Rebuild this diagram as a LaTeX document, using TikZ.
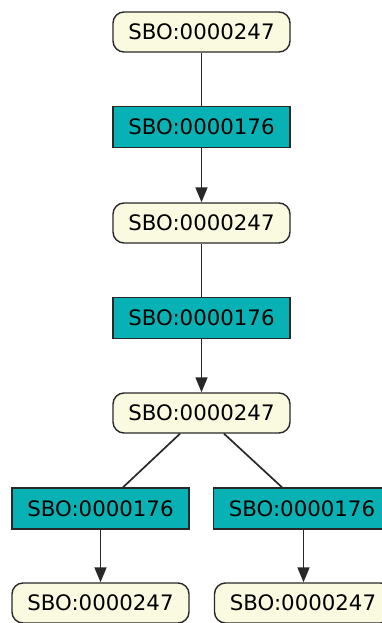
\documentclass[tikz,border=0pt]{standalone}
\usepackage{fontspec}
\setmainfont{DejaVu Sans}
\usetikzlibrary{arrows.meta}
\definecolor{sbocream}{RGB}{250,250,224}
\definecolor{sboteal}{RGB}{8,178,180}
\definecolor{sboline}{RGB}{40,40,40}
\tikzset{species/.style={draw=sboline,line width=1.4pt,fill=sbocream,rounded corners=11pt,
   minimum width=177pt,minimum height=40pt,inner sep=0pt,font=\fontsize{21.3}{25}\selectfont},
 process/.style={draw=sboline,line width=1.4pt,fill=sboteal,
   minimum width=177pt,minimum height=41pt,inner sep=0pt,font=\fontsize{21.3}{25}\selectfont},
 link/.style={draw=sboline,line width=1.7pt},
 prod/.style={link,-{Triangle[length=15pt,width=12pt]}},
 }

\begin{document}
\begin{tikzpicture}[x=1pt,y=-1pt]
        \useasboundingbox (0,0) rectangle (381,623);
        \node[species] (s1) at (201.5, 32) {SBO:0000247};
        \node[process] (p1) at (201.5, 127) {SBO:0000176};
        \node[species] (s2) at (201.5, 223) {SBO:0000247};
        \node[process] (p2) at (201.5, 318) {SBO:0000176};
        \node[species] (s3) at (201.5, 413) {SBO:0000247};
        \node[process] (p3) at (100.5, 508.5) {SBO:0000176};
        \node[process] (p4) at (302, 508.5) {SBO:0000176};
        \node[species] (s4) at (100.5, 603) {SBO:0000247};
        \node[species] (s5) at (303, 603) {SBO:0000247};
        \draw[link] (s1) -- (p1);
        \draw[prod] (p1) -- (s2);
        \draw[link] (s2) -- (p2);
        \draw[prod] (p2) -- (s3);
        \draw[link] (s3.south -| 180,0) -- (p3.north -| 123,0);
        \draw[link] (s3.south -| 224,0) -- (p4.north -| 282,0);
        \draw[prod] (p3) -- (s4);
        \draw[prod] (p4.south -| 303.5,0) -- (s5.north -| 303.5,0);
    \end{tikzpicture}
\end{document}
